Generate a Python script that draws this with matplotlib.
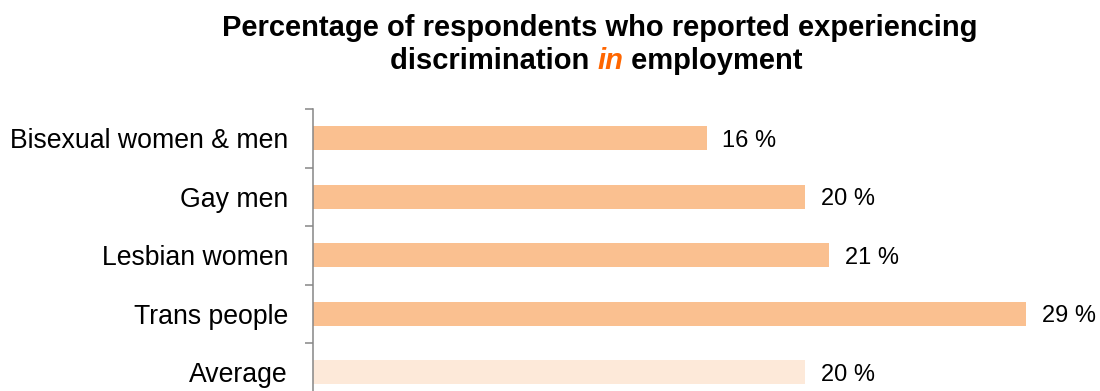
import matplotlib
matplotlib.use("Agg")
import matplotlib.pyplot as plt
import numpy as np

plt.rcParams['font.family'] = ['Liberation Sans', 'DejaVu Sans']

# Data
categories = ['Bisexual women & men', 'Gay men', 'Lesbian women', 'Trans people', 'Average']
values = [16, 20, 21, 29, 20]
value_labels = ['16 %', '20 %', '21 %', '29 %', '20 %']
bar_colors = ['#FAC090', '#FAC090', '#FAC090', '#FAC090', '#FDE9D9']

fig = plt.figure(figsize=(11, 3.91), dpi=100)
ax = fig.add_axes([313 / 1100, -0.0269, 787 / 1100, 0.748])

y = np.arange(len(categories))
ax.barh(y, values, height=0.41, color=bar_colors)

for yi, v, lab in zip(y, values, value_labels):
    ax.annotate(lab, (v, yi), xytext=(11.5, 0), textcoords='offset points',
                va='center_baseline', ha='left', fontsize=17)

ax.set_xlim(0, 32)
ax.set_ylim(len(categories) - 0.5, -0.5)
ax.set_yticks(y)
ax.set_yticklabels(categories, fontsize=19.2)
ax.tick_params(axis='y', which='major', length=0, pad=18)
ax.set_yticks(np.arange(len(categories) + 1) - 0.5, minor=True)
ax.tick_params(axis='y', which='minor', length=6, width=1.1, color='#868686')
ax.set_xticks([])

for s in ['top', 'right', 'bottom']:
    ax.spines[s].set_visible(False)
ax.spines['left'].set_color('#868686')
ax.spines['left'].set_linewidth(1.1)

# Title, second line with an orange italic word
fig.text(600 / 1100, 1 - 28 / 391, 'Percentage of respondents who reported experiencing',
         ha='center', va='center', fontsize=21, fontweight='bold')
parts = [('discrimination ', 'black', 'normal'), ('in', '#FF6600', 'italic'),
         (' employment', 'black', 'normal')]
fig.canvas.draw()
renderer = fig.canvas.get_renderer()
texts = []
for s, c, st in parts:
    t = fig.text(0, 1 - 61 / 391, s, ha='left', va='center', fontsize=21,
                 fontweight='bold', color=c, style=st)
    texts.append(t)
widths = [t.get_window_extent(renderer).width for t in texts]
total = sum(widths)
x0 = 596 - total / 2
for t, w in zip(texts, widths):
    t.set_x(x0 / 1100)
    x0 += w

fig.savefig('out.png', dpi=100)
